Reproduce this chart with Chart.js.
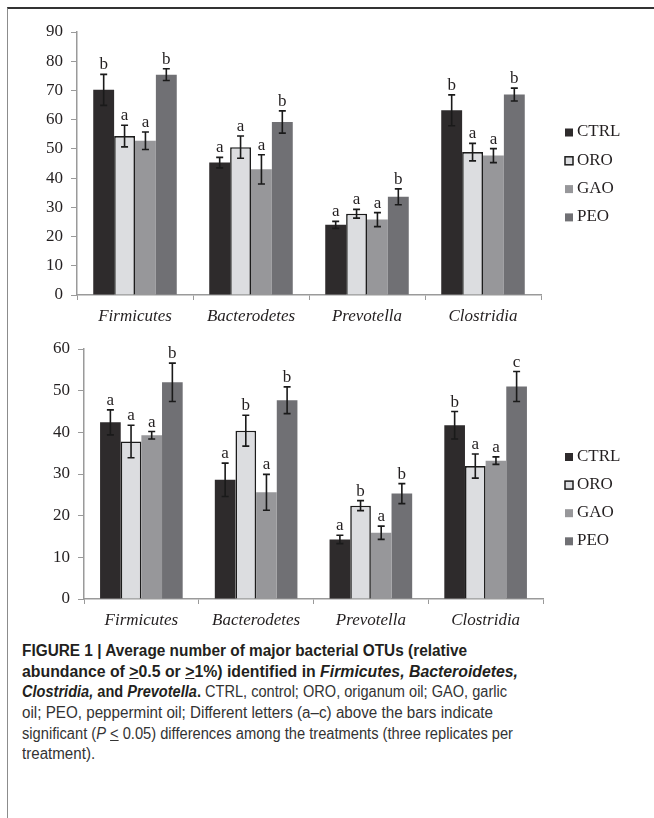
<!DOCTYPE html>
<html>
<head>
<meta charset="utf-8">
<script src="https://cdn.jsdelivr.net/npm/chart.js@4.4.1/dist/chart.umd.min.js"></script>
<style>
    body { margin: 0; width: 654px; height: 818px; background: #fff; position: relative; overflow: hidden; }
    #frame { position: absolute; left: 7px; top: 7px; right: 0; bottom: 0; border-top: 2px solid #333; border-left: 1.5px solid #8c8c8c; }
    canvas { position: absolute; left: 0; }
    #c1 { top: 0; }
    #c2 { top: 330px; }
    #cap { position: absolute; left: 22px; top: 641px; font-family: 'Liberation Sans Narrow', 'Liberation Sans', Arial, sans-serif; font-size: 16px; color: #333; }
    #cap .ln { white-space: nowrap; height: 20.7px; line-height: 20.7px; transform-origin: left center; }
    #cap b { color: #231f20; }
</style>
</head>
<body>
<div id="frame"></div>
<canvas id="c1" width="654" height="330"></canvas>
<canvas id="c2" width="654" height="300"></canvas>
<div id="cap">
    <div class="ln"><span><b>FIGURE 1 | Average number of major bacterial OTUs (relative</b></span></div>
    <div class="ln"><span><b>abundance of <u>&gt;</u>0.5 or <u>&gt;</u>1%) identified in <i>Firmicutes, Bacteroidetes,</i></b></span></div>
    <div class="ln"><span><b><i>Clostridia,</i> and <i>Prevotella</i>.</b> CTRL, control; ORO, origanum oil; GAO, garlic</span></div>
    <div class="ln"><span>oil; PEO, peppermint oil; Different letters (a–c) above the bars indicate</span></div>
    <div class="ln"><span>significant (<i>P</i> <u>&lt;</u> 0.05) differences among the treatments (three replicates per</span></div>
    <div class="ln"><span>treatment).</span></div>
</div>
<script>
;(function () {

    'use strict';

    var categories = ['Firmicutes', 'Bacterodetes', 'Prevotella', 'Clostridia'];
    var treatments = ['CTRL', 'ORO', 'GAO', 'PEO'];

    // top panel (0-90)
    var topCtrl = [70.2, 45.3, 24.0, 63.2];
    var topCtrlErr = [5.3, 1.8, 1.2, 5.3];
    var topCtrlSig = ['b', 'a', 'a', 'b'];
    var topOro = [54.4, 50.6, 27.8, 48.9];
    var topOroErr = [3.7, 3.8, 1.5, 3.0];
    var topOroSig = ['a', 'a', 'a', 'a'];
    var topGao = [52.8, 43.0, 25.8, 47.7];
    var topGaoErr = [3.0, 5.0, 2.4, 2.4];
    var topGaoSig = ['a', 'a', 'a', 'a'];
    var topPeo = [75.4, 59.2, 33.6, 68.6];
    var topPeoErr = [2.0, 3.8, 2.7, 2.2];
    var topPeoSig = ['b', 'b', 'b', 'b'];

    // bottom panel (0-60)
    var botCtrl = [42.4, 28.6, 14.3, 41.7];
    var botCtrlErr = [3.0, 4.0, 1.0, 3.3];
    var botCtrlSig = ['a', 'a', 'a', 'b'];
    var botOro = [37.8, 40.4, 22.4, 31.9];
    var botOroErr = [3.9, 3.7, 1.2, 2.9];
    var botOroSig = ['a', 'b', 'b', 'a'];
    var botGao = [39.3, 25.6, 15.9, 33.2];
    var botGaoErr = [0.9, 4.3, 1.6, 0.9];
    var botGaoSig = ['a', 'a', 'a', 'a'];
    var botPeo = [52.0, 47.7, 25.3, 51.0];
    var botPeoErr = [4.6, 3.2, 2.4, 3.6];
    var botPeoSig = ['b', 'b', 'b', 'c'];

    var fills = ['#2e2b2c', '#dcdde0', '#97979a', '#707074'];
    var serif = 'Liberation Serif';
    var ink = '#231f20';
    var axisGray = '#9a9a9a';

    function makeSets(vals, errs, sigs) {
        return treatments.map(function (name, i) {
            var oro = name === 'ORO';
            return {
                label: name,
                data: vals[i],
                errors: errs[i],
                letters: sigs[i],
                backgroundColor: fills[i],
                borderColor: oro ? '#1c1c1c' : fills[i],
                borderWidth: oro ? 1.6 : 0,
                categoryPercentage: 0.72,
                barPercentage: 1.0
            };
        });
    }

    // error bars + significance letters
    var errorBars = {
        id: 'errorBars',
        afterDatasetsDraw: function (chart) {
            var ctx = chart.ctx;
            var yScale = chart.scales.y;
            ctx.save();
            chart.data.datasets.forEach(function (ds, i) {
                chart.getDatasetMeta(i).data.forEach(function (bar, j) {
                    var v = ds.data[j], e = ds.errors[j];
                    var yHi = yScale.getPixelForValue(v + e);
                    var yLo = yScale.getPixelForValue(v - e);
                    var x = bar.x;
                    ctx.strokeStyle = '#1a1a1a';
                    ctx.lineWidth = 1.6;
                    ctx.beginPath();
                    ctx.moveTo(x, yHi); ctx.lineTo(x, yLo);
                    ctx.moveTo(x - 3.5, yHi); ctx.lineTo(x + 3.5, yHi);
                    ctx.moveTo(x - 3.5, yLo); ctx.lineTo(x + 3.5, yLo);
                    ctx.stroke();
                    ctx.fillStyle = ink;
                    ctx.font = '17px "' + serif + '"';
                    ctx.textAlign = 'center';
                    ctx.textBaseline = 'alphabetic';
                    ctx.fillText(ds.letters[j], x, yHi - 5);
                });
            });
            ctx.restore();
        }
    };

    // legend drawn at the right like the original figure
    var sideLegend = {
        id: 'sideLegend',
        afterDraw: function (chart, args, opts) {
            var ctx = chart.ctx;
            ctx.save();
            ctx.font = '17px "' + serif + '"';
            ctx.textBaseline = 'middle';
            ctx.textAlign = 'left';
            chart.data.datasets.forEach(function (ds, i) {
                var y = opts.top + i * opts.gap;
                ctx.fillStyle = ds.backgroundColor;
                ctx.fillRect(opts.left, y - 3.5, 8, 8);
                if (ds.borderWidth) {
                    ctx.strokeStyle = ds.borderColor;
                    ctx.lineWidth = 1.5;
                    ctx.strokeRect(opts.left, y - 3.5, 8, 8);
                }
                ctx.fillStyle = ink;
                ctx.fillText(ds.label, opts.left + 12, y);
            });
            ctx.restore();
        }
    };

    function build(id, sets, maxY, pad, yWidth, xHeight, legend) {
        return new Chart(document.getElementById(id), {
            type: 'bar',
            data: { labels: categories, datasets: sets },
            plugins: [errorBars, sideLegend],
            options: {
                responsive: false,
                animation: false,
                layout: { padding: pad },
                plugins: {
                    legend: { display: false },
                    tooltip: { enabled: false },
                    sideLegend: legend
                },
                scales: {
                    x: {
                        grid: { offset: true, drawOnChartArea: false, tickLength: 5, color: axisGray },
                        border: { color: axisGray, width: 1.5 },
                        ticks: { color: ink, padding: 6, font: { family: serif, size: 17, style: 'italic' } },
                        afterFit: function (s) { s.height = xHeight; }
                    },
                    y: {
                        min: 0,
                        max: maxY,
                        grid: { drawOnChartArea: false, tickLength: 6, color: axisGray },
                        border: { color: axisGray, width: 1.5 },
                        ticks: { stepSize: 10, color: ink, padding: 8, font: { family: serif, size: 17 } },
                        afterFit: function (s) { s.width = yWidth; }
                    }
                }
            }
        });
    }

    build('c1',
        makeSets([topCtrl, topOro, topGao, topPeo], [topCtrlErr, topOroErr, topGaoErr, topPeoErr], [topCtrlSig, topOroSig, topGaoSig, topPeoSig]),
        90, { top: 32, right: 113, bottom: 0, left: 0 }, 77, 35, { left: 565, top: 132, gap: 28.3 });

    build('c2',
        makeSets([botCtrl, botOro, botGao, botPeo], [botCtrlErr, botOroErr, botGaoErr, botPeoErr], [botCtrlSig, botOroSig, botGaoSig, botPeoSig]),
        60, { top: 19, right: 111, bottom: 0, left: 0 }, 84, 31, { left: 565, top: 126.5, gap: 28.1 });

    // squeeze caption lines to the widths of the printed figure
    var targets = [445, 496, 485, 471, 491];
    var lines = document.querySelectorAll('#cap .ln');
    var sum = 0;
    targets.forEach(function (w, i) {
        var span = lines[i].firstChild;
        var k = w / span.getBoundingClientRect().width;
        sum += k;
        lines[i].style.transform = 'scaleX(' + k.toFixed(4) + ')';
    });
    lines[5].style.transform = 'scaleX(' + (sum / targets.length).toFixed(4) + ')';

})();
</script>
</body>
</html>
